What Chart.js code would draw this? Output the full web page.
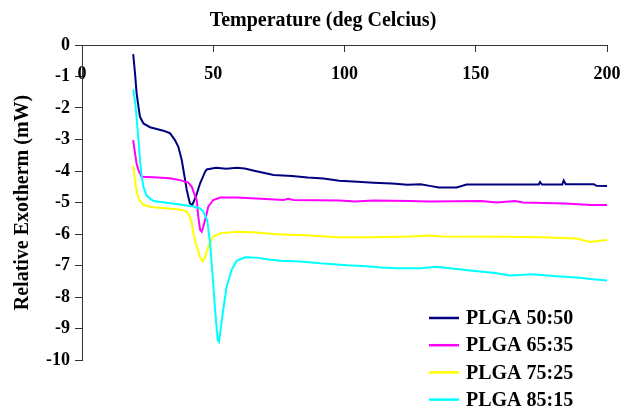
<!DOCTYPE html>
<html>
<head>
<meta charset="utf-8">
<script src="https://cdn.jsdelivr.net/npm/chart.js@4.4.1/dist/chart.umd.min.js"></script>
<style>
  html, body { margin: 0; padding: 0; background: #fff; }
  #wrap { width: 623px; height: 411px; }
</style>
</head>
<body>
<div id="wrap"><canvas id="chart" width="623" height="411"></canvas></div>
<script>
// DSC traces: temperature (deg C) and relative exotherm (mW)
const temp5050 = [19.5, 20.2, 20.8, 21.5, 22.1, 23.4, 25.9, 31.0, 33.5, 35.4, 36.7, 38.0, 39.0, 39.9, 41.1, 42.0, 43.4, 45.0, 46.9, 47.5, 51, 55, 59, 62, 66, 73, 80, 86, 92, 98, 105, 111, 118, 124, 129, 133, 136, 142.7, 146.5, 160, 174, 174.5, 175.2, 183, 183.5, 184.3, 195, 196, 200];
const exo5050 = [-0.29, -0.90, -1.53, -1.96, -2.28, -2.49, -2.61, -2.72, -2.80, -3.02, -3.23, -3.65, -4.15, -4.60, -5.03, -5.08, -4.81, -4.39, -4.02, -3.95, -3.90, -3.93, -3.90, -3.92, -4.00, -4.13, -4.16, -4.21, -4.24, -4.31, -4.34, -4.37, -4.40, -4.44, -4.42, -4.48, -4.52, -4.52, -4.43, -4.43, -4.43, -4.35, -4.43, -4.43, -4.30, -4.42, -4.42, -4.47, -4.48];

const temp6535 = [19.5, 20.2, 20.8, 21.5, 22.7, 27.2, 33.5, 37.3, 40.5, 41.8, 42.7, 43.7, 44.3, 45.0, 45.6, 46.2, 47.2, 48.1, 50.0, 52.6, 58.9, 66.5, 76.7, 78.6, 80.5, 98, 104, 111, 125, 132, 152, 158, 165, 168, 184, 194, 200];
const exo6535 = [-3.02, -3.44, -3.76, -3.97, -4.18, -4.20, -4.23, -4.29, -4.37, -4.50, -4.71, -4.92, -5.45, -5.87, -5.93, -5.77, -5.45, -5.13, -4.92, -4.84, -4.84, -4.87, -4.92, -4.88, -4.92, -4.94, -4.97, -4.94, -4.95, -4.97, -4.95, -5.00, -4.95, -5.00, -5.03, -5.08, -5.08];

const temp7525 = [19.5, 20.2, 20.8, 21.5, 22.3, 23.4, 27.2, 37.3, 39.9, 41.1, 41.8, 42.7, 43.7, 45.0, 46.0, 46.9, 47.7, 48.8, 50.0, 52.6, 58.9, 66.5, 74.2, 86.9, 97, 110, 125, 132.6, 137, 160, 175.7, 188.4, 191, 193.5, 196, 200];
const exo7525 = [-3.84, -4.29, -4.65, -4.85, -4.97, -5.08, -5.15, -5.22, -5.29, -5.45, -5.66, -6.08, -6.40, -6.74, -6.87, -6.74, -6.51, -6.24, -6.08, -5.98, -5.93, -5.95, -6.01, -6.05, -6.10, -6.10, -6.08, -6.05, -6.08, -6.09, -6.10, -6.14, -6.20, -6.25, -6.22, -6.19];

const temp8515 = [19.5, 20.2, 20.8, 21.5, 22.1, 22.7, 23.4, 24.6, 27.2, 37.3, 42.4, 45.0, 46.2, 47.7, 48.8, 49.8, 50.7, 51.7, 52.2, 52.6, 53.8, 55.1, 57.0, 58.9, 62.1, 66.5, 70.4, 75.4, 83, 90.7, 94.5, 101, 108.4, 114, 120, 128.8, 135.1, 140.2, 147.8, 156.7, 163, 172, 179.5, 189.7, 194.8, 200];
const exo8515 = [-1.41, -1.80, -2.30, -3.00, -3.65, -4.15, -4.50, -4.78, -4.95, -5.06, -5.13, -5.19, -5.29, -5.56, -6.30, -7.36, -8.41, -9.37, -9.42, -9.15, -8.41, -7.67, -7.14, -6.85, -6.74, -6.75, -6.80, -6.85, -6.87, -6.93, -6.95, -6.99, -7.02, -7.06, -7.09, -7.09, -7.04, -7.09, -7.16, -7.23, -7.32, -7.28, -7.33, -7.39, -7.44, -7.48];

const seriesNames = ['PLGA 50:50', 'PLGA 65:35', 'PLGA 75:25', 'PLGA 85:15'];
const seriesColors = ['#000080', '#ff00ff', '#ffff00', '#00ffff'];
const xTicks = [0, 50, 100, 150, 200];
const yTicks = [0, -1, -2, -3, -4, -5, -6, -7, -8, -9, -10];
const xTitle = 'Temperature (deg Celcius)';
const yTitle = 'Relative Exotherm (mW)';

const temps = [temp5050, temp6535, temp7525, temp8515];
const exos = [exo5050, exo6535, exo7525, exo8515];

const serif = "'Liberation Serif', 'Times New Roman', serif";
Chart.defaults.color = '#000';

// x title sits above the plot, like the Excel original
const topTitle = {
    id: 'topTitle',
    afterDraw(chart) {
        const ctx = chart.ctx;
        ctx.save();
        ctx.font = 'bold 20px ' + serif;
        ctx.fillStyle = '#000';
        ctx.textAlign = 'center';
        ctx.textBaseline = 'middle';
        ctx.fillText(xTitle, 323, 21);
        ctx.restore();
    }
};

// legend in the lower right corner, partly below the plot
const cornerLegend = {
    id: 'cornerLegend',
    afterDraw(chart) {
        const ctx = chart.ctx;
        ctx.save();
        ctx.font = 'bold 20px ' + serif;
        ctx.textBaseline = 'middle';
        ctx.textAlign = 'left';
        chart.data.datasets.forEach((ds, i) => {
            const y = 318 + i * 27.2;
            ctx.strokeStyle = ds.borderColor;
            ctx.lineWidth = 2.5;
            ctx.beginPath();
            ctx.moveTo(429, y);
            ctx.lineTo(459, y);
            ctx.stroke();
            ctx.fillStyle = '#000';
            ctx.fillText(ds.label, 466, y + 1);
        });
        ctx.restore();
    }
};

const datasets = seriesNames.map((name, i) => ({
    label: name,
    data: temps[i].map((t, k) => ({ x: t, y: exos[i][k] })),
    borderColor: seriesColors[i],
    backgroundColor: seriesColors[i],
    borderWidth: 2,
    pointRadius: 0,
    fill: false,
    tension: 0,
    order: seriesNames.length - i
}));

const ctx = document.getElementById('chart').getContext('2d');
window.myChart = new Chart(ctx, {
    type: 'line',
    data: { datasets: datasets },
    options: {
        responsive: false,
        animation: false,
        layout: { padding: { top: 45, right: 16, bottom: 51, left: 0 } },
        plugins: {
            legend: { display: false },
            tooltip: { enabled: false }
        },
        scales: {
            x: {
                type: 'linear',
                position: { y: 0 },
                min: xTicks[0],
                max: xTicks[xTicks.length - 1],
                // tick padding pushes labels down, but shouldn't eat the right margin
                afterFit: (scale) => { scale.paddingLeft = 0; scale.paddingRight = 0; },
                ticks: {
                    stepSize: xTicks[1] - xTicks[0],
                    padding: 13,
                    font: { family: serif, size: 18, weight: 'bold' },
                    color: '#000'
                },
                grid: { drawOnChartArea: false, tickLength: 6, color: '#333' },
                border: { color: '#333', width: 1 }
            },
            y: {
                type: 'linear',
                min: yTicks[yTicks.length - 1],
                max: yTicks[0],
                afterFit: (scale) => { scale.width = 82; },
                ticks: {
                    stepSize: 1,
                    padding: 5,
                    font: { family: serif, size: 18, weight: 'bold' },
                    color: '#000'
                },
                grid: { drawOnChartArea: false, tickLength: 7, color: '#333' },
                border: { color: '#333', width: 1 },
                title: {
                    display: true,
                    text: yTitle,
                    font: { family: serif, size: 20, weight: 'bold' },
                    color: '#000',
                    padding: { top: 11, bottom: 0 }
                }
            }
        }
    },
    plugins: [topTitle, cornerLegend]
});
</script>
</body>
</html>
